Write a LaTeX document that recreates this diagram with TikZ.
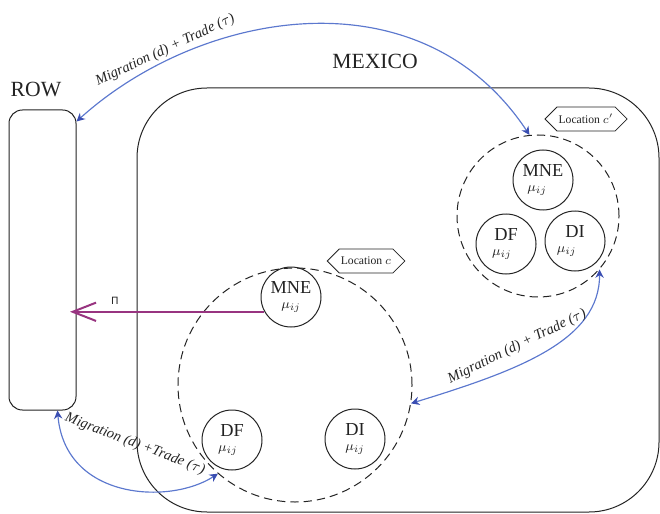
\documentclass[tikz,border=0pt]{standalone}
\usepackage{fontspec}
\setmainfont{Liberation Serif}
\newfontfamily\pisymfont{DejaVu Sans}
\usetikzlibrary{arrows.meta,shapes.symbols,calc}

\definecolor{linkblue}{RGB}{92,120,206}
\definecolor{tipblue}{RGB}{58,78,178}
\definecolor{piflow}{RGB}{152,52,128}
\definecolor{ink}{RGB}{35,35,35}

% firm label: name on top, productivity below (optionally nudged left)
\newcommand\firmtext[2]{#1\\\hspace*{#2}{\fontsize{8}{8}\selectfont$\mu_{ij}$}}

\tikzset{
  region/.style={draw=ink, line width=0.6pt, rectangle, inner sep=0pt},
  title/.style={font=\fontsize{13}{13}\selectfont, text=ink},
  zone/.style={draw=ink, circle, line width=0.6pt, dash pattern=on 5pt off 3pt, inner sep=0pt},
  firm/.style={draw=ink, circle, line width=0.6pt, minimum size=36pt, inner sep=0pt,
    align=center, font=\fontsize{11}{8.5}\selectfont, text=ink},
  tag/.style={draw=ink, signal, signal to=west and east, line width=0.5pt,
    minimum height=14.4pt, minimum width=46pt, inner sep=1pt,
    font=\fontsize{7}{7}\selectfont, text=ink},
  flow/.style={draw=linkblue, line width=0.7pt,
    >={Stealth[length=5pt,width=5pt,color=tipblue]}, <->},
  flowlabel/.style={font=\fontsize{8.7}{9}\selectfont\itshape, text=ink, inner sep=2pt},
  profit/.style={draw=piflow, line width=1.2pt, -{Straight Barb[length=14pt,width=11pt]}},
  pilab/.style={font=\pisymfont\fontsize{6}{6}\selectfont, text=ink}
}

\begin{document}
\begin{tikzpicture}[x=0.6pt,y=-0.6pt]
\useasboundingbox (0,0) rectangle (660,513);

% countries
\node[region, minimum width=40.2pt, minimum height=180pt, rounded corners=8pt] (row) at (42.5,260) {};
\node[title] (rowlabel) at (36,89) {ROW};
\node[region, minimum width=313.2pt, minimum height=254.4pt, rounded corners=42pt] (mexico) at (398,300) {};
\node[title] (mexicolabel) at (375,61) {MEXICO};

% locations
\node[zone, minimum size=140.4pt] (locc) at (295,385) {};
\node[zone, minimum size=97.2pt] (loccp) at (538,216) {};
\node[tag] (tagc) at (366,261) {Location $c$};
\node[tag] (tagcp) at (586,119) {Location $c'$};

% firms in location c
\node[firm] (mnec) at (291,297) {\firmtext{MNE}{0pt}};
\node[firm] (dfc) at (232,440) {\firmtext{DF}{-5pt}};
\node[firm] (dic) at (355,439) {\firmtext{DI}{0pt}};

% firms in location c'
\node[firm] (mnecp) at (543,180) {\firmtext{MNE}{-7pt}};
\node[firm] (dfcp) at (506,244) {\firmtext{DF}{-5pt}};
\node[firm] (dicp) at (575,241) {\firmtext{DI}{-10pt}};

% profits sent abroad
\coordinate (pitip) at (70,313);
\draw[profit] (mnec.209) -- (mnec.209 -| pitip);
\node[pilab] (pilabel) at (115,301) {Π};

% migration and trade links
\coordinate (rowtop) at ($(row.north east)+(0,12)$);
\coordinate (rowbottom) at ($(row.south)+(15,0)$);
\draw[flow] (rowtop) .. controls (200,10) and (420,-30) .. (loccp.96)
  node[flowlabel, sloped, above, pos=0.22] {Migration (d) + Trade ($\tau$)};
\draw[flow] (locc.-9) .. controls (520,370) and (600,340) .. (loccp.-41)
  node[flowlabel, sloped, above=4pt, pos=0.4] {Migration (d) + Trade ($\tau$)};
\draw[flow] (rowbottom) .. controls (65,500) and (170,505) .. (locc.229);
\node[flowlabel, rotate=-21] (lowlabel) at (135,444) {Migration (d) +Trade ($\tau$)};
\end{tikzpicture}
\end{document}
